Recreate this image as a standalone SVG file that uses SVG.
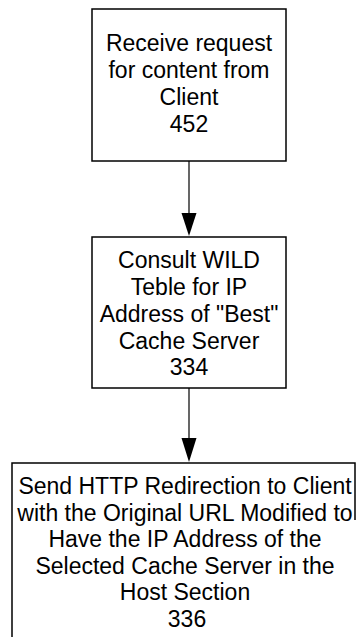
<svg xmlns="http://www.w3.org/2000/svg" width="359" height="637" viewBox="0 0 359 637">
<style>
.box{fill:none;stroke:#000;stroke-width:1.5}
.t{font-family:"Liberation Sans",Arial,sans-serif;font-size:23px;fill:#000;text-anchor:middle}
.c{stroke:#000;stroke-width:1.2;fill:none}
.ah{fill:#000}
</style>
<rect width="359" height="637" fill="#fff"/>
<g id="connectors">
<path class="c" d="M189,161 V214"/>
<path class="ah" d="M181.5,213 L196.5,213 L189,236 Z"/>
<path class="c" d="M189,388 V439"/>
<path class="ah" d="M181.5,438 L196.5,438 L189,462 Z"/>
</g>
<g id="n452">
<rect class="box" x="92" y="9" width="194" height="152"/>
<text class="t" x="189" y="51">Receive request</text>
<text class="t" x="189" y="78">for content from</text>
<text class="t" x="189" y="105">Client</text>
<text class="t" x="189" y="132">452</text>
</g>
<g id="n334">
<rect class="box" x="92" y="237" width="194" height="151"/>
<text class="t" x="189" y="268">Consult WILD</text>
<text class="t" x="189" y="295">Teble for IP</text>
<text class="t" x="189" y="322">Address of "Best"</text>
<text class="t" x="189" y="349">Cache Server</text>
<text class="t" x="189" y="375">334</text>
</g>
<g id="n336">
<path class="box" d="M355,520 V463 H12 V637"/>
<text class="t" x="185" y="494">Send HTTP Redirection to Client</text>
<text class="t" x="185" y="521">with the Original URL Modified to</text>
<text class="t" x="185" y="547">Have the IP Address of the</text>
<text class="t" x="185" y="574">Selected Cache Server in the</text>
<text class="t" x="185" y="600">Host Section</text>
<text class="t" x="187" y="627">336</text>
</g>
</svg>
